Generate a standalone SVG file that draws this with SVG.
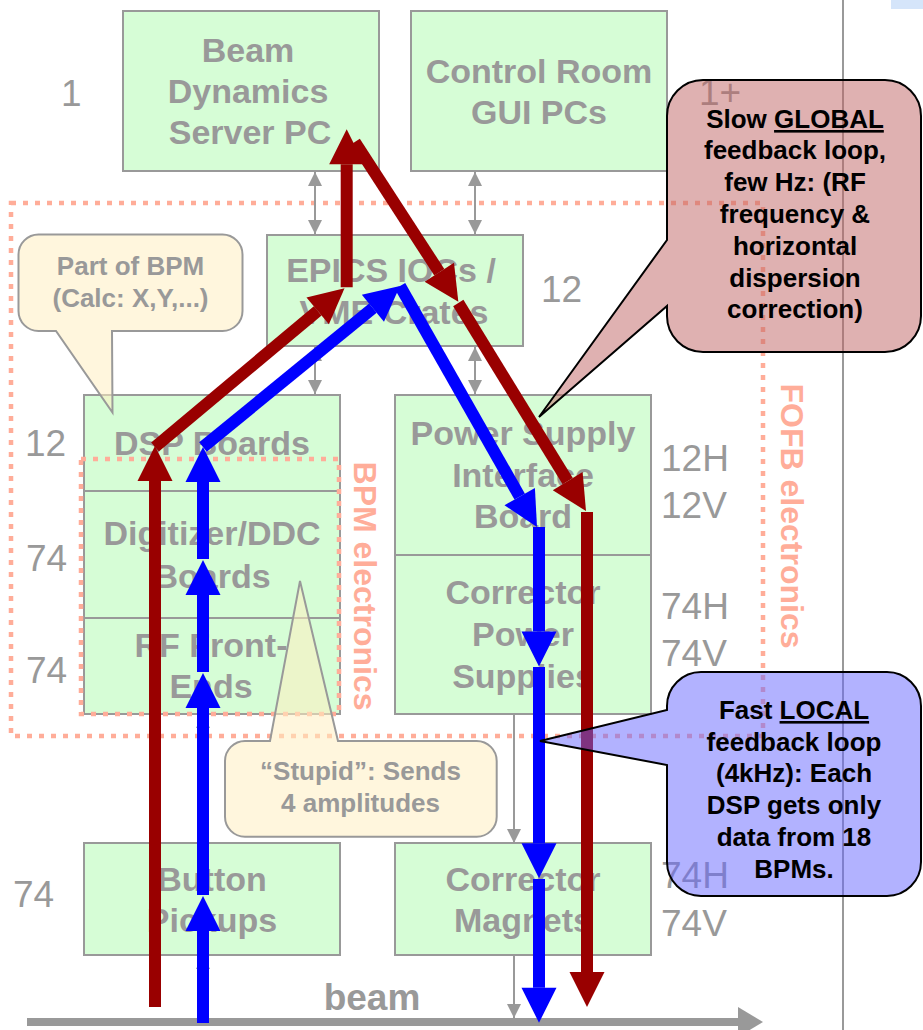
<svg xmlns="http://www.w3.org/2000/svg" width="923" height="1030" viewBox="0 0 923 1030">
  <style>
    .box { fill: #D6FDD6; stroke: #999999; stroke-width: 2; }
    .bt { font-family: "Liberation Sans", Arial, sans-serif; font-weight: bold; font-size: 34px; fill: #999999; text-anchor: middle; }
    .num { font-family: "Liberation Sans", Arial, sans-serif; font-size: 37px; fill: #999999; }
    .dot { fill: none; stroke: #FFAD99; stroke-width: 4.5; stroke-dasharray: 5 7; }
    .side { font-family: "Liberation Sans", Arial, sans-serif; font-weight: bold; font-size: 32px; fill: #FFAD99; text-anchor: middle; }
    .thin { stroke: #999999; stroke-width: 2; fill: none; }
    .both { marker-start: url(#hg); marker-end: url(#hg); }
    .one { marker-end: url(#hg); }
    .red { stroke: #990000; stroke-width: 12; fill: none; marker-end: url(#hr); }
    .blue { stroke: #0000FF; stroke-width: 12; fill: none; marker-end: url(#hb); }
    .note { fill: #FFEFC1; fill-opacity: 0.55; stroke: #999999; stroke-width: 2; }
    .nt { font-family: "Liberation Sans", Arial, sans-serif; font-weight: bold; font-size: 26px; fill: #999999; text-anchor: middle; }
    .slow { fill: #BF6464; fill-opacity: 0.5; stroke: #000000; stroke-width: 2; }
    .fast { fill: #6666FF; fill-opacity: 0.5; stroke: #000000; stroke-width: 2; }
    .ct { font-family: "Liberation Sans", Arial, sans-serif; font-weight: bold; font-size: 26px; fill: #000000; text-anchor: middle; }
    .ul { text-decoration: underline; }
  </style>
  <defs>
    <marker id="hr" markerUnits="userSpaceOnUse" markerWidth="35" markerHeight="35" refX="0" refY="17.5" orient="auto" overflow="visible">
      <path d="M0,0 L35,17.5 L0,35 Z" fill="#990000"/>
    </marker>
    <marker id="hb" markerUnits="userSpaceOnUse" markerWidth="35" markerHeight="35" refX="0" refY="17.5" orient="auto" overflow="visible">
      <path d="M0,0 L35,17.5 L0,35 Z" fill="#0000FF"/>
    </marker>
    <marker id="hg" markerUnits="userSpaceOnUse" markerWidth="14" markerHeight="14" refX="14" refY="7" orient="auto-start-reverse" overflow="visible">
      <path d="M0,0 L14,7 L0,14 Z" fill="#999999"/>
    </marker>
  </defs>

  <rect width="923" height="1030" fill="#FFFFFF"/>
  <rect x="891" y="0" width="32" height="9" fill="#D5E5FA"/>

  <!-- beam line -->
  <g id="beam">
    <line x1="27" y1="1022" x2="739" y2="1022" stroke="#999999" stroke-width="8"/>
    <path d="M738,1007 L763,1022 L738,1037 Z" fill="#999999"/>
    <text class="bt" x="372" y="1010" style="font-size:37px">beam</text>
  </g>

  <!-- page divider -->
  <line x1="843" y1="0" x2="843" y2="1030" stroke="#999999" stroke-width="2"/>

  <g id="server">
    <rect class="box" x="123" y="11" width="256" height="160"/>
    <text class="bt" x="248" y="62">Beam</text>
    <text class="bt" x="248" y="103">Dynamics</text>
    <text class="bt" x="250" y="144">Server PC</text>
  </g>
  <g id="gui">
    <rect class="box" x="411" y="11" width="256" height="160"/>
    <text class="bt" x="539" y="83">Control Room</text>
    <text class="bt" x="539" y="124">GUI PCs</text>
  </g>
  <g id="epics">
    <rect class="box" x="267" y="235" width="256" height="111"/>
    <text class="bt" x="391" y="282">EPICS IOCs /</text>
    <text class="bt" x="394" y="324">VME Crates</text>
  </g>
  <g id="dsp">
    <rect class="box" x="84" y="395" width="256" height="96"/>
    <text class="bt" x="212" y="455">DSP Boards</text>
  </g>
  <g id="digitizer">
    <rect class="box" x="84" y="491" width="256" height="127"/>
    <text class="bt" x="212" y="545">Digitizer/DDC</text>
    <text class="bt" x="212" y="588">Boards</text>
  </g>
  <g id="rf">
    <rect class="box" x="84" y="618" width="256" height="96"/>
    <text class="bt" x="211" y="657">RF Front-</text>
    <text class="bt" x="211" y="698">Ends</text>
  </g>
  <g id="psi">
    <rect class="box" x="395" y="395" width="256" height="160"/>
    <text class="bt" x="523" y="445">Power Supply</text>
    <text class="bt" x="523" y="487">Interface</text>
    <text class="bt" x="523" y="528">Board</text>
  </g>
  <g id="cps">
    <rect class="box" x="395" y="555" width="256" height="159"/>
    <text class="bt" x="523" y="604">Corrector</text>
    <text class="bt" x="523" y="646">Power</text>
    <text class="bt" x="523" y="688">Supplies</text>
  </g>
  <g id="pickups">
    <rect class="box" x="84" y="843" width="256" height="112"/>
    <text class="bt" x="212" y="891">Button</text>
    <text class="bt" x="212" y="932">Pickups</text>
  </g>
  <g id="magnets">
    <rect class="box" x="395" y="843" width="256" height="112"/>
    <text class="bt" x="523" y="891">Corrector</text>
    <text class="bt" x="523" y="932">Magnets</text>
  </g>

  <!-- electronics groupings -->
  <g id="fofb">
    <rect class="dot" x="11" y="203" width="752" height="533"/>
    <text class="side" transform="translate(781,516) rotate(90)">FOFB electronics</text>
  </g>
  <g id="bpm">
    <rect class="dot" x="81" y="459" width="258" height="255"/>
    <text class="side" transform="translate(354,586) rotate(90)">BPM electronics</text>
  </g>

  <!-- quantities -->
  <g id="counts">
    <text class="num" x="61" y="106">1</text>
    <text class="num" x="699" y="105">1+</text>
    <text class="num" x="541" y="302">12</text>
    <text class="num" x="25" y="456">12</text>
    <text class="num" x="26" y="571">74</text>
    <text class="num" x="26" y="683">74</text>
    <text class="num" x="13" y="907">74</text>
    <text class="num" x="661" y="471">12H</text>
    <text class="num" x="661" y="518">12V</text>
    <text class="num" x="661" y="619">74H</text>
    <text class="num" x="661" y="666">74V</text>
    <text class="num" x="661" y="888">74H</text>
    <text class="num" x="661" y="936">74V</text>
  </g>

  <g id="connectors">
    <!-- data paths -->
    <line class="thin both" x1="315" y1="172" x2="315" y2="234"/>
    <line class="thin both" x1="475" y1="172" x2="475" y2="234"/>
    <line class="thin both" x1="315" y1="347" x2="315" y2="394"/>
    <line class="thin both" x1="475" y1="347" x2="475" y2="394"/>
    <line class="thin one" x1="514" y1="715" x2="514" y2="843"/>
    <line class="thin one" x1="514" y1="956" x2="514" y2="1018"/>
    <line class="thin one" x1="203" y1="1018" x2="203" y2="955"/>
    <line class="thin one" x1="203" y1="842" x2="203" y2="714"/>

    <!-- slow global loop -->
    <line class="red" x1="155" y1="1007" x2="155" y2="481"/>
    <line class="red" x1="155" y1="447" x2="317.7" y2="310.8"/>
    <line class="red" x1="346.7" y1="287.3" x2="346.7" y2="164.3"/>
    <line class="red" x1="354.8" y1="141.9" x2="439.3" y2="272.3"/>
    <line class="red" x1="458.3" y1="303" x2="567.7" y2="481.2"/>
    <line class="red" x1="587" y1="512" x2="587" y2="972"/>

    <!-- fast local loop -->
    <line class="blue" x1="203" y1="1023" x2="203" y2="931"/>
    <line class="blue" x1="203" y1="895" x2="203" y2="708"/>
    <line class="blue" x1="203" y1="672" x2="203" y2="595"/>
    <line class="blue" x1="203" y1="559" x2="203" y2="482"/>
    <line class="blue" x1="203" y1="447" x2="372.9" y2="308.2"/>
    <line class="blue" x1="400" y1="286" x2="519.7" y2="496.6"/>
    <line class="blue" x1="539" y1="527" x2="539" y2="631.5"/>
    <line class="blue" x1="539" y1="667" x2="539" y2="843.3"/>
    <line class="blue" x1="539" y1="879" x2="539" y2="987.7"/>
  </g>

  <!-- callouts -->
  <g id="note-bpm">
    <path class="note" d="M38.5,234.5 H222.5 A20,20 0 0 1 242.5,254.5 V311 A20,20 0 0 1 222.5,331 H112 L112.5,412.5 L56,331 H38.5 A20,20 0 0 1 18.5,311 V254.5 A20,20 0 0 1 38.5,234.5 Z"/>
    <text class="nt" x="130.5" y="275">Part of BPM</text>
    <text class="nt" x="130.5" y="307">(Calc: X,Y,...)</text>
  </g>
  <g id="note-frontend">
    <path class="note" d="M245,741 H270 L300,581 L338,741 H476.7 A20,20 0 0 1 496.7,761 V816.7 A20,20 0 0 1 476.7,836.7 H245 A20,20 0 0 1 225,816.7 V761 A20,20 0 0 1 245,741 Z"/>
    <text class="nt" x="360.5" y="780">“Stupid”: Sends</text>
    <text class="nt" x="360.5" y="812">4 amplitudes</text>
  </g>
  <g id="note-global">
    <path class="slow" d="M703,80 H885 A36,36 0 0 1 921,116 V316 A36,36 0 0 1 885,352 H703 A36,36 0 0 1 667,316 V306 L539,417 L667,240 V116 A36,36 0 0 1 703,80 Z"/>
    <text class="ct" x="795" y="128">Slow <tspan class="ul">GLOBAL</tspan></text>
    <text class="ct" x="795" y="159">feedback loop,</text>
    <text class="ct" x="795" y="191">few Hz: (RF</text>
    <text class="ct" x="795" y="223">frequency &amp;</text>
    <text class="ct" x="795" y="255">horizontal</text>
    <text class="ct" x="795" y="287">dispersion</text>
    <text class="ct" x="795" y="318">correction)</text>
  </g>
  <g id="note-local">
    <path class="fast" d="M701,672 H887 A34,34 0 0 1 921,706 V862 A34,34 0 0 1 887,896 H701 A34,34 0 0 1 667,862 V765 L540,741 L667,710 V706 A34,34 0 0 1 701,672 Z"/>
    <text class="ct" x="794" y="719">Fast <tspan class="ul">LOCAL</tspan></text>
    <text class="ct" x="794" y="751">feedback loop</text>
    <text class="ct" x="794" y="782">(4kHz): Each</text>
    <text class="ct" x="794" y="814">DSP gets only</text>
    <text class="ct" x="794" y="846">data from 18</text>
    <text class="ct" x="794" y="878">BPMs.</text>
  </g>
</svg>
